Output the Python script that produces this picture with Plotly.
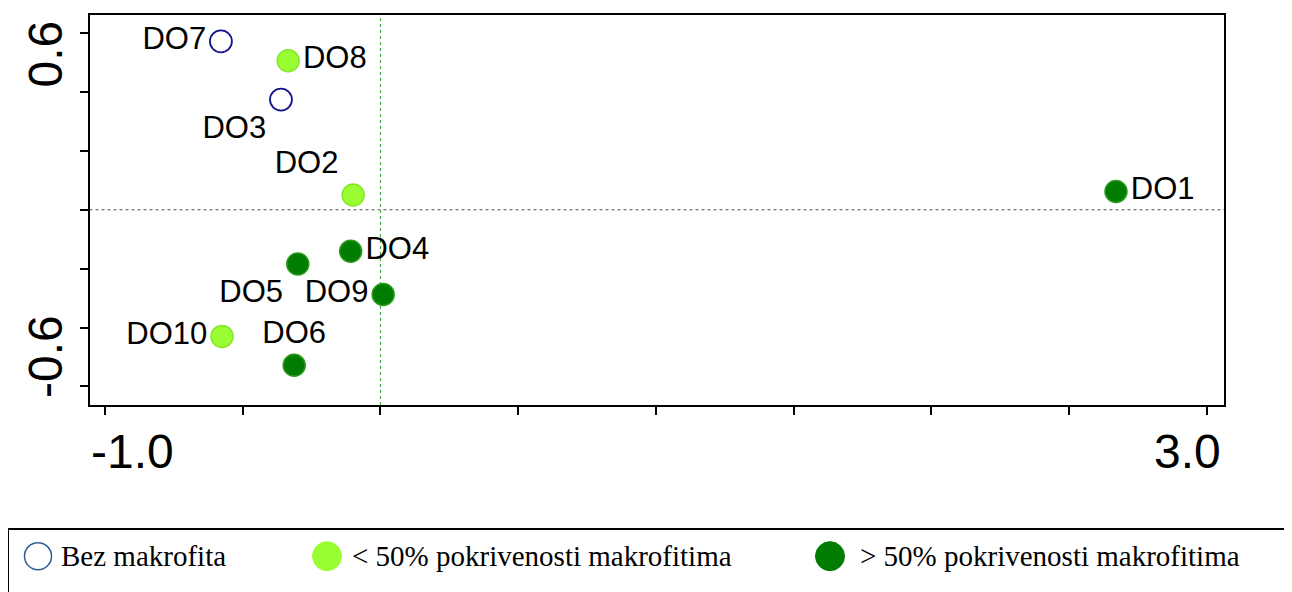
import plotly.graph_objects as go

# ---- data ----
sites = ["DO1", "DO2", "DO3", "DO4", "DO5", "DO6", "DO7", "DO8", "DO9", "DO10"]
axis1 = [2.670, -0.099, -0.361, -0.108, -0.300, -0.313, -0.579, -0.335, 0.010, -0.575]
axis2 = [0.062, 0.050, 0.374, -0.141, -0.184, -0.528, 0.572, 0.506, -0.288, -0.430]
group = ["high", "low", "none", "high", "high", "high", "none", "low", "high", "low"]
label_pos = ["middle right", "top left", "bottom left", "middle right", "bottom left",
             "top center", "middle left", "middle right", "middle left", "middle left"]

group_order = ["none", "low", "high"]
group_names = ["Bez makrofita", "< 50% pokrivenosti makrofitima", "> 50% pokrivenosti makrofitima"]

x_tick_labels = ["-1.0", "3.0"]
x_tick_vals = [-1.0, 3.0]
y_tick_labels = ["0.6", "-0.6"]
y_tick_vals = [0.6, -0.6]

# ---- layout geometry (page has an 8px body margin) ----
OFF = 8
W, H = 1292 - OFF, 592 - OFF


def px_x(sx):
    return (sx - OFF) / W


def px_y(sy):
    return 1 - (sy - OFF) / H


styles = {
    "none": dict(symbol="circle-open", color="#14148c", size=22, line=dict(color="#14148c", width=1.8)),
    "low": dict(symbol="circle", color="#99ff33", size=22, line=dict(color="#86e62a", width=1.5)),
    "high": dict(symbol="circle", color="#007d00", size=22, line=dict(color="#2a9a1a", width=1.5)),
}
legend_styles = {
    "none": dict(symbol="circle-open", color="#2f5f8f", size=27, line=dict(color="#2f5f8f", width=1.5)),
    "low": dict(symbol="circle", color="#99ff33", size=29, line=dict(color="#99ff33", width=1)),
    "high": dict(symbol="circle", color="#007d00", size=29, line=dict(color="#007d00", width=1)),
}
legend_marker_x = [38, 327, 830]
legend_text_x = [59, 350, 858]

fig = go.Figure()

for g in group_order:
    idx = [i for i, gg in enumerate(group) if gg == g]
    fig.add_trace(go.Scatter(
        x=[axis1[i] for i in idx], y=[axis2[i] for i in idx],
        text=[sites[i] for i in idx], textposition=[label_pos[i] for i in idx],
        mode="markers+text", marker=styles[g],
        textfont=dict(family="Liberation Sans, Arial, sans-serif", size=31, color="black"),
        showlegend=False, hoverinfo="skip", cliponaxis=False,
    ))

# legend traces on a second, hidden axis pair (x2 in screen pixels)
for k, g in enumerate(group_order):
    fig.add_trace(go.Scatter(
        x=[legend_marker_x[k]], y=[0.56], mode="markers", marker=legend_styles[g],
        xaxis="x2", yaxis="y2", showlegend=False, hoverinfo="skip", cliponaxis=False,
    ))
    fig.add_annotation(x=legend_text_x[k], y=0.56, xref="x2", yref="y2", text=group_names[k],
                       showarrow=False, xanchor="left", yanchor="middle",
                       font=dict(family="Liberation Serif, Times New Roman, serif", size=29, color="black"))

x_dom = [px_x(89.5), px_x(1224)]
y_dom = [px_y(405), px_y(14.5)]

fig.update_layout(
    width=W, height=H, autosize=False,
    margin=dict(l=0, r=0, t=0, b=0),
    paper_bgcolor="white", plot_bgcolor="white",
    xaxis=dict(domain=x_dom, range=[-1.056, 3.062], tick0=-1, dtick=0.5, ticks="outside",
               ticklen=8, tickwidth=2, tickcolor="black", showticklabels=False,
               showline=True, linewidth=2, linecolor="black", mirror=True,
               showgrid=False, zeroline=False),
    yaxis=dict(domain=y_dom, range=[-0.663, 0.663], tick0=0, dtick=0.2, ticks="outside",
               ticklen=8, tickwidth=2, tickcolor="black", showticklabels=False,
               showline=True, linewidth=2, linecolor="black", mirror=True,
               showgrid=False, zeroline=False),
    xaxis2=dict(domain=[0, 1], range=[OFF, OFF + W], visible=False, anchor="y2"),
    yaxis2=dict(domain=[0, px_y(528)], range=[0, 1], visible=False, anchor="x2"),
)

# zero reference lines
fig.add_shape(type="line", xref="x", yref="y domain", x0=0, x1=0, y0=0, y1=1,
              line=dict(color="#2ca02c", width=1, dash="dot"), layer="below")
fig.add_shape(type="line", xref="x domain", yref="y", x0=0, x1=1, y0=0, y1=0,
              line=dict(color="#555555", width=1, dash="dot"), layer="below")

# legend box
fig.add_shape(type="rect", xref="paper", yref="paper", x0=px_x(8), x1=1.02, y0=-0.1, y1=px_y(529),
              line=dict(color="black", width=2), fillcolor="rgba(0,0,0,0)")

# axis tick labels (first left-aligned, last right-aligned, as in the original)
tick_font = dict(family="Liberation Sans, Arial, sans-serif", size=48, color="black")
fig.add_annotation(x=x_tick_vals[0], y=px_y(451), xref="x", yref="paper", text=x_tick_labels[0],
                   showarrow=False, xanchor="left", yanchor="middle", xshift=-16, font=tick_font)
fig.add_annotation(x=x_tick_vals[1], y=px_y(451), xref="x", yref="paper", text=x_tick_labels[1],
                   showarrow=False, xanchor="right", yanchor="middle", xshift=16, font=tick_font)
fig.add_annotation(x=px_x(46), y=y_tick_vals[0], xref="paper", yref="y", text=y_tick_labels[0],
                   showarrow=False, xanchor="center", yanchor="top", yshift=14, textangle=-90, font=tick_font)
fig.add_annotation(x=px_x(46), y=y_tick_vals[1], xref="paper", yref="y", text=y_tick_labels[1],
                   showarrow=False, xanchor="center", yanchor="bottom", yshift=-14, textangle=-90, font=tick_font)

fig.write_html("out.html")
